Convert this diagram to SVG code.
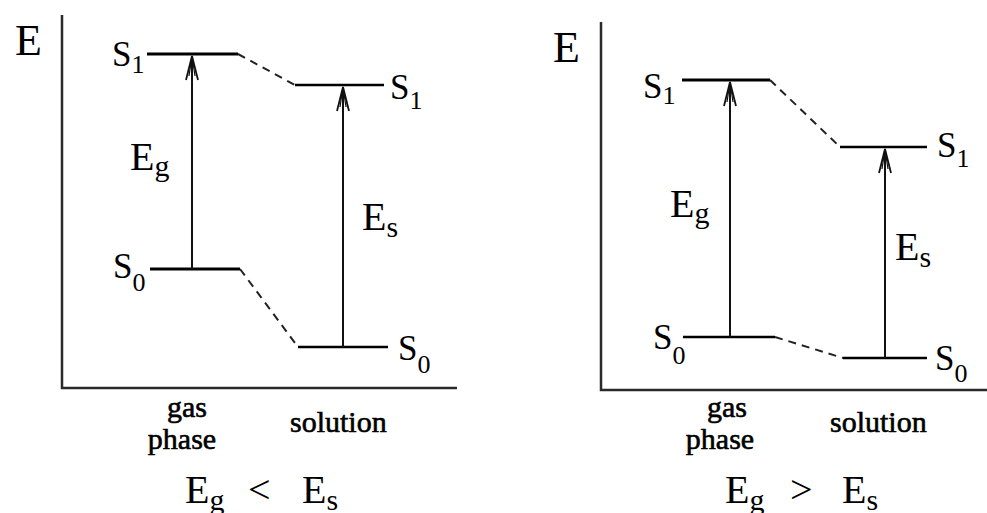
<svg xmlns="http://www.w3.org/2000/svg" width="987" height="513" viewBox="0 0 987 513">
<style>
.axis{stroke:#2a2a2a;stroke-width:2.5;fill:none}
.lvl{stroke:#000;stroke-width:3.2;fill:none}
.lvlt{stroke:#000;stroke-width:2.6;fill:none}
.dash{stroke:#222;stroke-width:2;stroke-dasharray:8 6;fill:none}
.arrow{stroke:#111;stroke-width:2;fill:none;marker-end:url(#head)}
text{font-family:"Liberation Serif","Times New Roman",serif;fill:#000}
.big{font-size:44px}
.st{font-size:35px}
.sub{font-size:26px}
.lab{font-size:40px}
.ls{font-size:30px}
.cap{font-family:"Liberation Serif","Times New Roman",serif;font-size:30px;stroke:#000;stroke-width:0.6}
</style>
<defs>
<marker id="head" markerUnits="userSpaceOnUse" markerWidth="30" markerHeight="16" viewBox="-26 -8 28 16" refX="0" refY="0" orient="auto" overflow="visible">
<path d="M-24,-6 L0,0 L-24,6" fill="none" stroke="#111" stroke-width="1.8"/>
<path d="M-20,-3 L0,0 L-20,3" fill="none" stroke="#111" stroke-width="1.2"/>
</marker>
</defs>

<g id="left-panel">
<g id="left-axes">
<path class="axis" d="M62,15 V388 H457"/>
<text class="big" x="15" y="55">E</text>
</g>
<g id="left-s1-gas"><path class="lvl" d="M147,54 H238"/><text class="st" x="112" y="66">S<tspan class="sub" dy="7">1</tspan></text></g>
<g id="left-s1-sol"><path class="lvlt" d="M295,85 H384"/><text class="st" x="390" y="99">S<tspan class="sub" dy="10">1</tspan></text></g>
<g id="left-s0-gas"><path class="lvl" d="M150,269 H240"/><text class="st" x="113" y="278">S<tspan class="sub" dy="13">0</tspan></text></g>
<g id="left-s0-sol"><path class="lvlt" d="M298,347 H388"/><text class="st" x="398" y="360">S<tspan class="sub" dy="13">0</tspan></text></g>
<g id="left-labels">
<text class="lab" x="130" y="170">E<tspan class="ls" dy="6">g</tspan></text>
<text class="lab" x="362" y="230">E<tspan class="ls" dy="7">s</tspan></text>
<text class="cap" x="187" y="417" text-anchor="middle">gas</text>
<text class="cap" x="182" y="449" text-anchor="middle">phase</text>
<text class="cap" x="290" y="432">solution</text>
<text class="lab" x="185" y="503">E<tspan class="ls" dy="7">g</tspan><tspan dy="-7" x="248">&lt;</tspan><tspan x="302">E</tspan><tspan class="ls" dy="7">s</tspan></text>
</g>
</g>

<g id="right-panel">
<g id="right-axes">
<path class="axis" d="M601,22 V390 H987"/>
<text class="big" x="553" y="62">E</text>
</g>
<g id="right-s1-gas"><path class="lvl" d="M682,80 H770"/><text class="st" x="643" y="98">S<tspan class="sub" dy="6">1</tspan></text></g>
<g id="right-s1-sol"><path class="lvlt" d="M840,147 H927"/><text class="st" x="937" y="157">S<tspan class="sub" dy="10">1</tspan></text></g>
<g id="right-s0-gas"><path class="lvlt" d="M683,337 H775"/><text class="st" x="653" y="349">S<tspan class="sub" dy="15">0</tspan></text></g>
<g id="right-s0-sol"><path class="lvlt" d="M843,358 H927"/><text class="st" x="935" y="370">S<tspan class="sub" dy="12">0</tspan></text></g>
<g id="right-labels">
<text class="lab" x="670" y="217">E<tspan class="ls" dy="6">g</tspan></text>
<text class="lab" x="895" y="260">E<tspan class="ls" dy="7">s</tspan></text>
<text class="cap" x="727" y="417" text-anchor="middle">gas</text>
<text class="cap" x="720" y="449" text-anchor="middle">phase</text>
<text class="cap" x="830" y="432">solution</text>
<text class="lab" x="725" y="503">E<tspan class="ls" dy="7">g</tspan><tspan dy="-7" x="790">&gt;</tspan><tspan x="842">E</tspan><tspan class="ls" dy="7">s</tspan></text>
</g>
</g>

<g id="connectors">
<path class="dash" d="M238,54 L295,85"/>
<path class="dash" d="M240,269 L298,347"/>
<path class="dash" d="M770,80 L840,147"/>
<path class="dash" d="M775,337 L843,358"/>
<path class="arrow" d="M192,269 V56"/>
<path class="arrow" d="M343,347 V87"/>
<path class="arrow" d="M730,337 V82"/>
<path class="arrow" d="M885,358 V149"/>
</g>
</svg>
